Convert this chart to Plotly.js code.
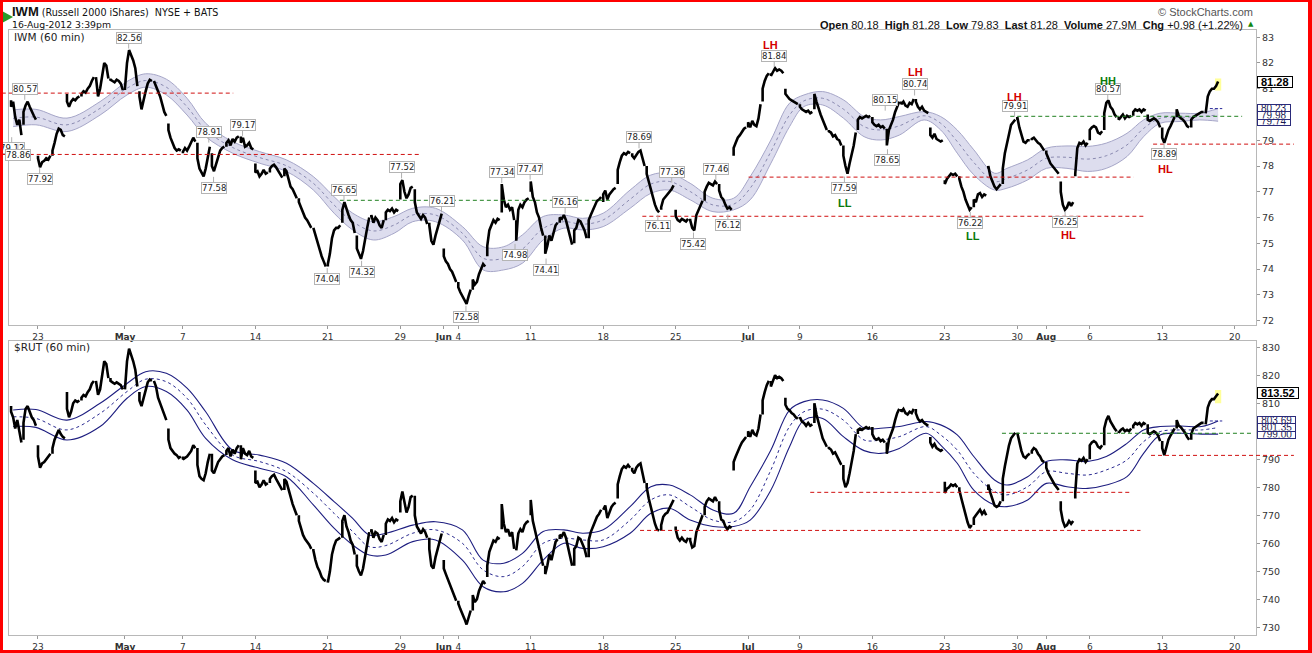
<!DOCTYPE html>
<html><head><meta charset="utf-8">
<script src="https://cdn.plot.ly/plotly-3.0.1.min.js"></script>
<style>
html,body{margin:0;padding:0;background:#fff;}
#wrap{position:relative;width:1312px;height:653px;overflow:hidden;}
#chart{position:absolute;left:0;top:0;width:1312px;height:653px;}
#frame{position:absolute;left:0;top:0;width:1312px;height:653px;box-sizing:border-box;border-style:solid;border-color:#f00;border-width:2px 4px 3px 3px;pointer-events:none;}
</style></head><body>
<div id="wrap"><div id="chart"></div><div id="frame"></div></div>
<script>
// ---------------- DATA ----------------
const FIRST_BAR = -13; // bar index of first hourly bar (Apr 19, 10:30)
const sessionDates = ['2012-04-19','2012-04-20','2012-04-23','2012-04-24','2012-04-25','2012-04-26','2012-04-27','2012-04-30',
 '2012-05-01','2012-05-02','2012-05-03','2012-05-04','2012-05-07','2012-05-08','2012-05-09','2012-05-10','2012-05-11',
 '2012-05-14','2012-05-15','2012-05-16','2012-05-17','2012-05-18','2012-05-21','2012-05-22','2012-05-23','2012-05-24','2012-05-25',
 '2012-05-29','2012-05-30','2012-05-31','2012-06-01','2012-06-04','2012-06-05','2012-06-06','2012-06-07','2012-06-08',
 '2012-06-11','2012-06-12','2012-06-13','2012-06-14','2012-06-15','2012-06-18','2012-06-19','2012-06-20','2012-06-21','2012-06-22',
 '2012-06-25','2012-06-26','2012-06-27','2012-06-28','2012-06-29','2012-07-02','2012-07-03','2012-07-05','2012-07-06',
 '2012-07-09','2012-07-10','2012-07-11','2012-07-12','2012-07-13','2012-07-16','2012-07-17','2012-07-18','2012-07-19','2012-07-20',
 '2012-07-23','2012-07-24','2012-07-25','2012-07-26','2012-07-27','2012-07-30','2012-07-31','2012-08-01','2012-08-02','2012-08-03',
 '2012-08-06','2012-08-07','2012-08-08','2012-08-09','2012-08-10','2012-08-13','2012-08-14','2012-08-15','2012-08-16'];

// IWM session opens
const iwmOpen = [80.55,79.6,78.4,78.4,80.8,80.7,81.45,81.4,80.95,80.9,81.3,79.65,78.5,78.9,78.5,78.75,79.15,78.1,77.75,77.6,76.75,75.6,74.1,75.8,75.3,76.0,75.9,76.7,77.1,75.8,74.8,73.5,73.2,74.5,76.2,75.9,77.0,75.3,75.8,75.0,75.2,76.6,77.3,78.5,78.0,76.3,76.3,75.95,76.65,77.3,78.4,79.5,80.5,81.6,81.0,80.4,80.2,79.4,78.8,79.4,79.9,79.45,80.5,80.6,79.5,77.45,77.6,76.4,77.9,77.3,79.8,79.0,78.6,77.4,77.6,79.0,79.4,79.9,79.95,80.0,79.5,79.9,79.5,80.1];
// IWM hourly closes, one row per session
const iwmHourly = [
 [80.3,80.5,79.9,79.6,79.8,79.2],
 [80.1,80.35,80.5,80.3,80.1,79.95,79.8],
 [78.3,77.95,78.15,78.2,78.3,78.25,78.4],
 [78.6,78.9,79.25,79.45,79.4,79.2,79.15],
 [80.5,80.3,80.5,80.6,80.55,80.65,80.7],
 [80.8,80.9,80.85,81.0,81.1,81.3,81.45],
 [81.45,80.7,81.0,81.6,82.0,81.9,81.4],
 [81.35,81.3,81.25,81.35,81.3,81.2,80.95],
 [81.0,82.0,82.5,82.3,82.1,81.8,81.1],
 [80.7,80.2,80.6,80.9,81.2,81.35,81.3],
 [81.3,81.1,80.95,80.7,80.4,80.1,79.95],
 [79.4,79.1,78.9,78.7,78.6,78.65,78.6],
 [78.55,78.7,78.6,78.75,78.9,79.1,78.95],
 [78.3,77.9,77.75,77.6,77.9,78.3,78.75],
 [78.0,77.8,78.1,78.4,78.6,78.7,78.75],
 [78.9,79.0,78.8,79.05,78.95,79.1,79.15],
 [78.9,79.1,78.75,78.8,78.9,78.7,78.65],
 [77.75,77.8,77.6,77.7,77.85,77.7,77.75],
 [77.9,78.0,78.05,77.95,77.8,77.7,77.55],
 [77.9,77.8,77.5,77.2,77.1,76.9,76.75],
 [76.6,76.4,76.2,76.0,75.9,75.75,75.6],
 [75.6,75.3,75.0,74.7,74.5,74.3,74.1],
 [74.2,74.6,75.2,75.5,75.6,75.6,75.7],
 [76.3,76.6,76.3,76.1,75.9,75.8,75.4],
 [74.8,74.6,74.4,74.7,75.2,75.6,76.0],
 [76.1,75.8,76.0,75.9,75.7,75.6,75.9],
 [76.2,76.3,76.25,76.35,76.2,76.3,76.25],
 [77.3,77.45,77.0,76.75,76.9,77.15,77.2],
 [76.6,76.2,76.05,75.95,76.1,76.0,75.75],
 [75.7,75.1,74.95,75.3,75.6,75.8,76.15],
 [74.5,74.3,74.2,74.0,73.9,73.7,73.5],
 [73.3,73.1,72.95,72.8,72.65,72.95,73.2],
 [73.6,73.4,73.5,73.8,74.0,74.2,74.1],
 [74.9,75.5,75.7,75.9,75.8,75.95,75.9],
 [77.3,76.7,76.4,76.5,76.3,76.4,75.9],
 [75.1,76.3,76.5,76.4,76.6,76.7,76.75],
 [77.4,76.8,76.6,76.2,76.0,75.6,75.3],
 [74.6,74.9,75.3,75.1,75.4,75.7,75.8],
 [76.0,75.95,76.1,75.9,75.6,75.3,74.95],
 [75.5,75.6,75.9,75.85,75.7,75.5,75.2],
 [75.9,76.1,76.3,76.5,76.65,76.7,76.8],
 [76.9,77.05,76.7,76.9,77.0,77.1,77.15],
 [77.85,78.15,78.4,78.5,78.45,78.55,78.5],
 [78.4,78.3,78.45,78.55,78.6,78.3,78.0],
 [77.7,77.4,77.1,76.7,76.5,76.3,76.2],
 [76.4,76.7,76.8,76.9,77.0,77.1,77.25],
 [76.05,75.9,75.85,75.95,75.9,75.85,75.95],
 [75.9,75.6,75.5,76.1,76.3,76.45,76.65],
 [77.0,77.2,77.35,77.3,77.25,77.4,77.3],
 [77.05,76.8,76.7,76.5,76.35,76.4,76.3],
 [78.7,78.9,79.1,79.2,79.35,79.45,79.5],
 [79.7,79.5,79.75,79.6,79.55,79.85,80.4],
 [81.0,81.3,81.5,81.6],
 [81.5,81.65,81.8,81.7,81.75,81.7,81.6],
 [80.8,80.7,80.6,80.55,80.5,80.45,80.4],
 [80.3,80.2,80.15,80.1,80.15,80.05,80.1],
 [80.8,80.5,80.2,80.0,79.8,79.6,79.4],
 [79.35,79.3,79.15,79.2,79.05,79.0,78.8],
 [78.4,78.0,77.7,78.1,78.4,78.8,79.3],
 [79.8,79.9,79.85,79.9,79.95,79.9,79.95],
 [79.7,79.6,79.55,79.6,79.5,79.55,79.45],
 [78.8,79.4,79.6,79.8,80.1,80.3,80.5],
 [80.4,80.5,80.35,80.3,80.45,80.4,80.6],
 [80.5,80.3,80.2,80.3,80.15,80.1,80.05],
 [79.2,79.1,79.25,79.05,79.0,78.95,79.0],
 [77.3,77.5,77.6,77.7,77.65,77.7,77.6],
 [77.5,77.2,77.0,76.7,76.5,76.3,76.4],
 [76.7,76.6,76.9,76.95,76.8,76.9,76.85],
 [78.0,77.6,77.4,77.2,77.1,77.2,77.3],
 [77.9,78.5,78.9,79.3,79.6,79.7,79.8],
 [79.9,79.5,79.2,78.95,78.9,79.0,79.0],
 [79.05,79.1,79.0,78.9,78.85,78.7,78.6],
 [78.5,78.3,78.1,78.0,77.9,77.8,77.7],
 [77.0,76.5,76.3,76.4,76.6,76.45,76.6],
 [77.7,78.7,78.9,78.85,78.95,78.8,78.9],
 [79.4,79.5,79.55,79.5,79.3,79.25,79.35],
 [80.05,80.45,80.55,80.3,80.2,80.0,79.9],
 [79.8,79.9,80.0,79.85,79.95,79.9,79.95],
 [80.1,80.2,80.15,80.2,80.1,80.2,80.15],
 [79.8,79.75,79.8,79.85,79.8,79.7,79.5],
 [79.1,78.9,79.2,79.4,79.55,79.75,79.9],
 [80.2,79.95,79.85,79.8,79.7,79.55,79.5],
 [79.8,79.9,79.95,80.0,80.05,80.1,80.1],
 [80.05,80.7,80.9,81.0,81.0,81.1,81.28]
];

// $RUT session opens
const rutOpen = [809,797,795,792,814,811,818,819,815,814,818,801,791,794,792,791.5,795,786,781.5,779,770,758,746.5,762,756,764,763,771,777,762,754,739.5,736,748,765,758,770,752,761.5,752,755,772,776,787,781.5,764.5,766,762,770,775,786,798,806,818,812,804.5,803,794.5,788,799,801.5,796,808,808,798,782,780,766.5,779,775,799.5,792,789,775,776,790,795,800,801,802.5,796.5,801,797,803];
// $RUT hourly closes, one row per session
const rutHourly = [
 [807,805,801,804,800,796],
 [803,808,809,807,805,804,802],
 [791,787,788.5,789,790,791,792],
 [794,797,799,800.5,799,798,797.5],
 [808,805,807,810,811,810.5,811],
 [812,813,812.5,814,815,817,818],
 [818,813,815,820,825,824,819],
 [818,817.5,817,817.5,817,816.5,815],
 [815,825,829.5,827.5,825,822,816],
 [811,809,812,815,817.5,818.5,818],
 [818,816,812,810,808,806,804],
 [797,794,793,792,791.5,790.5,791],
 [790,790.5,791,792,793,795,794],
 [788,784,783,782.5,785,789,792],
 [786,785,787,789,790,791,791.5],
 [793,794,791,793.5,792,794,795],
 [790,794,792,791.5,793,791,790.5],
 [781.5,782,780,781,782.5,781,781.5],
 [783,784,784.5,783,781.5,780.5,779],
 [783,782,779,776,774,772,770],
 [768,765.5,763,761.5,760.5,759.5,758],
 [757.5,754,751.5,750,748,747,746.5],
 [746,750,756,759,761,761.5,762],
 [768,770,766,764,761,759.5,756],
 [752,750,748.5,751,755,759,764],
 [765,762,764,763.5,761.5,760.5,763],
 [767,768.5,768,769,767.5,768.5,768],
 [775,778.5,774,771,773,776.5,777],
 [770,766,764.5,763.5,765,764,762],
 [758,752,751,755,758,760,763.5],
 [751,749,747,745,743.5,741.5,739.5],
 [738.5,736.5,735,733,731,734,736],
 [741.5,739,740,743,745,746.5,745.5],
 [752,757,759,761,760.5,762,761.5],
 [774,767,764,765,762.5,764,758],
 [757.5,763.5,765,764,766.5,767.5,768],
 [775.5,768,765,761,758.5,755,752],
 [749,752,756,754,757.5,760.5,761.5],
 [763,762.5,764,762,759,755,752],
 [758,759,762,761.5,760,758,755],
 [761,764,766,768,769.5,770.5,772],
 [772,773.5,769,771,773,774,774.5],
 [781,784,786.5,787.5,787,788,787],
 [786,785,787,788,788.5,785,781.5],
 [780,776,773,769,767,765,764.5],
 [766.5,769.5,770.5,771,772.5,773.5,775.5],
 [765,762,761,762,761,760.5,762],
 [761,758.5,759,764,766,768,770],
 [773,775,776,775.5,775,776.5,775],
 [772,768.5,768,766,765,766,765.5],
 [789,791,793,794.5,796,797,798],
 [800,798,800.5,799,798.5,801,806],
 [811,814,816.5,818],
 [816,818,820,819,819.5,819,818],
 [809.5,808,807.5,806.5,806,805,804.5],
 [805,803.5,803,802,803,802,802.5],
 [810,806,803,800,797.5,796,794.5],
 [794,793.5,792,792.5,791,790,788],
 [783,780,781.5,785,789,793,799],
 [800.5,801,800.5,801,801.5,801,801.5],
 [799,797.5,797,797.5,796.5,797,796],
 [792,797,799,801,804,806.5,808],
 [807,808,806.5,806,807,806.5,808],
 [806.5,804.5,803.5,804,803,802.5,802],
 [796,794.5,795.5,794,793.5,793,793.5],
 [778,779.5,780,781,780.5,781,780],
 [779,776,773,770,767.5,765.5,766.5],
 [769,770,771,772,770.5,771.5,770],
 [781,778,775.5,773.5,773,773.5,775],
 [783,787.5,791.5,795,797.5,798.5,799.5],
 [799.5,796,793,791,790.5,791.5,792],
 [793,794,793.5,792,791,789.5,789],
 [787,785,783.5,782,781,780,779],
 [772,768,766,766.5,768,767,768],
 [778,788.5,790,789.5,790.5,789,790],
 [795,796,796.5,796,794.5,794,795],
 [801,804,805.5,803.5,802,801,800],
 [799.5,800.5,801,800,800.5,800,801],
 [802,803,802.5,803,802,803,802.5],
 [799.5,799,799.5,800,799.5,798.5,796.5],
 [794,791.5,794.5,797,798.5,800,801],
 [804,802,801.5,800.5,799.5,798,797],
 [799,801,801.5,802,802.5,803,803],
 [802.5,808.5,810.5,811.5,811.5,812.5,813.52]
];

// IWM moving-average envelope (upper / middle / lower), sampled at bar indices
const iwmBandBars = [-12,-1,14,30,43,52,62,72,81,94,107,120,133,143,152,162,172,181,192,205,215,225,234,244,254,263,273,286,296,305,315,326,336,344,354,363,370,379,389,399,407,416,428,436,444,452,462,468,478,487,497,507,516,526,534,542,552,561,570];
const iwmUpper = [80.18,80.2,79.86,80.5,81.28,81.58,81.37,80.63,79.66,78.95,78.56,78.24,77.59,76.81,76.17,75.84,76.04,76.36,76.36,75.65,74.87,74.87,75.33,76.04,76.1,75.97,76.17,77.07,77.65,77.72,77.33,76.75,76.75,77.59,79.01,80.44,80.76,80.89,80.57,79.92,79.79,79.92,80.11,79.92,79.4,78.63,77.72,77.91,78.24,78.69,78.78,78.76,78.89,79.27,79.79,80.05,80.05,80.05,80.23];
const iwmMid   = [79.85,79.9,79.6,80.24,81.02,81.32,81.06,80.3,79.4,78.72,78.33,78.01,77.33,76.49,75.84,75.48,75.71,76.1,76.1,75.39,74.42,74.42,74.78,75.58,75.84,75.74,75.91,76.71,77.3,77.4,77.01,76.49,76.52,77.14,78.56,79.98,80.53,80.63,80.21,79.53,79.4,79.56,79.95,79.66,78.95,78.14,77.4,77.52,77.85,78.3,78.34,78.27,78.4,78.82,79.46,79.85,79.89,79.92,79.98];
const iwmLower = [79.53,79.6,79.34,79.98,80.76,81.06,80.76,79.98,79.14,78.5,78.11,77.79,77.07,76.17,75.52,75.13,75.39,75.84,75.84,75.13,73.97,73.97,74.23,75.13,75.59,75.52,75.65,76.36,76.94,77.07,76.69,76.23,76.3,76.69,78.11,79.53,80.31,80.37,79.86,79.14,79.01,79.2,79.79,79.4,78.5,77.66,77.07,77.14,77.46,77.91,77.91,77.79,77.91,78.37,79.14,79.66,79.73,79.79,79.74];

// $RUT envelope
const rutBandBars = [-12,-1,14,30,43,52,62,72,81,94,107,120,133,143,152,160,168,181,192,205,215,225,234,244,254,263,273,286,296,305,315,326,336,344,354,363,370,379,389,399,407,416,429,436,444,452,462,468,478,487,497,507,516,526,534,542,552,562,570];
const rutUpper = [807.6,807.8,804,810,817.1,821.3,820.7,815.4,807,793.3,791.5,788.6,781.4,774.9,768.9,763,763.6,766.5,767.7,764.8,754,752.9,756.4,764.2,764.8,763.6,764.8,773.1,780.2,780.8,777.3,771.9,770.7,780.2,793.3,807.6,810.6,811.2,808.2,801.1,801.1,801.7,803.5,802.3,798.7,791,782.6,780.8,783.8,789.2,789.8,789.2,791,795.7,800.5,801.7,801.9,801.7,803.69];
const rutMid   = [805.2,804.6,800.5,806.4,814.2,818.6,817.7,811.8,802.3,791.5,789.2,785.6,777.9,770.7,764.2,758.8,759.2,763.6,764.8,760,750.5,748.1,751.7,760,761.8,761.2,761.2,768.3,775.5,777.3,773.1,768.3,767.7,771.9,786.2,801.7,807,807.9,804,796.9,796.9,798.1,801.7,798.7,793.3,785,778.5,777.3,780.2,785.6,785,784.4,786.2,789.8,796.3,799.9,800.5,800.5,801.35];
const rutLower = [801.7,801.4,796.9,801.7,811.8,816,814.2,807.6,797.5,789.8,786.8,783.8,773.7,765.4,759.4,755.8,755.8,760.6,761.2,754,744.5,742.7,745.7,754,760,758.2,758.8,763.6,770.7,772.5,768.3,766,766,768.3,779,794.5,804,804.6,798.1,793.1,792.1,793.9,799.3,795.1,788.6,779,773.7,773.1,775.5,781.4,780.2,779.6,780.8,783.8,792.1,798.7,799.3,799,799.00];

// x-axis ticks (session dates) and their labels
const tickDates  = ['2012-04-23','2012-05-01','2012-05-07','2012-05-14','2012-05-21','2012-05-29','2012-06-01','2012-06-04','2012-06-11','2012-06-18','2012-06-25','2012-07-02','2012-07-09','2012-07-16','2012-07-23','2012-07-30','2012-08-01','2012-08-06','2012-08-13','2012-08-20'];
const tickLabels = ['23','<b>May</b>','7','14','21','29','<b>Jun</b>','4','11','18','25','<b>Jul</b>','9','16','23','30','<b>Aug</b>','6','13','20'];

// pivot price labels on IWM: [label, bar index, H (above) / L (below)]
const iwmPivots = [
 ['80.57',-6.4,'H'],['79.12',-12.7,'L'],['78.86',-9.7,'L'],['77.92',0.8,'L'],['82.56',43.8,'H'],
 ['78.91',82.5,'H'],['79.17',98.8,'H'],['77.58',84.8,'L'],['77.52',175.6,'H'],['76.65',147.8,'H'],
 ['74.04',139.7,'L'],['74.32',156.3,'L'],['76.21',194.9,'H'],['72.58',206.7,'L'],['77.34',224,'H'],
 ['77.47',237.7,'H'],['74.98',230.4,'L'],['74.41',245.4,'L'],['76.16',254.6,'H'],['78.69',290.3,'H'],
 ['77.36',306.1,'H'],['76.11',299.4,'L'],['75.42',316.6,'L'],['77.46',327.4,'H'],['76.12',333.2,'L'],
 ['81.84',355.6,'H'],['77.59',389.5,'L'],['80.74',423.4,'H'],['80.15',409.2,'H'],['78.65',410.3,'L'],
 ['79.91',471.7,'H'],['76.22',450.3,'L'],['76.25',496.1,'L'],['80.57',516.7,'H'],['78.89',543.9,'L']
];
// swing tags: [tag, bar index, price level of tag]
const swingTags = [
 ['LH',354,82.71],['LL',390,76.58],['LH',424,81.65],['LH',471.7,80.68],['LL',451.6,75.29],
 ['HL',497.7,75.31],['HH',516.7,81.30],['HL',544.6,77.88]
];
const tagColor = {LH:'#d40000', HL:'#d40000', LL:'#0a7a0a', HH:'#0a7a0a'};
// horizontal levels: [from bar, to bar, price, kind]
const iwmLevels = [[-17.5,94.3,80.83,'r'],[-17.5,184.5,78.45,'r'],[145.8,277.1,76.67,'g'],[343.2,529.2,77.57,'r'],[291.9,534.1,76.05,'r'],[469.6,581.6,79.93,'g'],[538.6,606.6,78.85,'r']];
const rutLevels = [[373,528.5,778.2,'r'],[290.8,532.5,764.6,'r'],[465.6,587.1,799.3,'g'],[537.6,606.6,791.4,'r']];

const iwmLast = 81.28, rutLast = 813.52;
const iwmBandLast = [80.23, 79.74, 79.98];
const rutBandLast = [803.69, 799.00, 801.35];

// ---------------- BUILD ----------------
const XR = [-14, 588.3];
const sessionStart = {};
let lastBar = FIRST_BAR;
sessionDates.forEach((d,k)=>{ sessionStart[d]=lastBar; lastBar += iwmHourly[k].length; });
lastBar -= 1;
function barOfDate(d){
  if (d in sessionStart) return sessionStart[d];
  const last = sessionDates[sessionDates.length-1];
  let t = new Date(last+'T12:00:00Z'), target = new Date(d+'T12:00:00Z'), n = 0;
  while (t < target){ t.setUTCDate(t.getUTCDate()+1); const w=t.getUTCDay(); if(w!==0&&w!==6) n++; }
  return sessionStart[last] + 7*n;
}
const tickVals = tickDates.map(barOfDate);

function hourly(opens, rows){
  const x=[], y=[]; let i = FIRST_BAR;
  rows.forEach((r,k)=>{ x.push(i); y.push(opens[k]); r.forEach(v=>{ x.push(i); y.push(v); i++; }); x.push(null); y.push(null); });
  return {x,y};
}
const iwm = hourly(iwmOpen, iwmHourly), rut = hourly(rutOpen, rutHourly);

const traces = [
 {x:iwmBandBars,y:iwmUpper,xaxis:'x',yaxis:'y',mode:'lines',line:{color:'#a6a6c8',width:1,shape:'spline',smoothing:1}},
 {x:iwmBandBars,y:iwmLower,xaxis:'x',yaxis:'y',mode:'lines',fill:'tonexty',fillcolor:'rgba(208,208,232,0.72)',line:{color:'#a6a6c8',width:1,shape:'spline',smoothing:1}},
 {x:iwmBandBars,y:iwmMid,xaxis:'x',yaxis:'y',mode:'lines',line:{color:'#8a8ab0',width:1,dash:'dot',shape:'spline',smoothing:1}},
 {x:iwm.x,y:iwm.y,xaxis:'x',yaxis:'y',mode:'lines',line:{color:'#000',width:2.6},connectgaps:false},
 {x:rutBandBars,y:rutUpper,xaxis:'x2',yaxis:'y2',mode:'lines',line:{color:'#1e1e80',width:1.1,shape:'spline',smoothing:1}},
 {x:rutBandBars,y:rutLower,xaxis:'x2',yaxis:'y2',mode:'lines',line:{color:'#1e1e80',width:1.1,shape:'spline',smoothing:1}},
 {x:rutBandBars,y:rutMid,xaxis:'x2',yaxis:'y2',mode:'lines',line:{color:'#2a2a90',width:1,dash:'dot',shape:'spline',smoothing:1}},
 {x:rut.x,y:rut.y,xaxis:'x2',yaxis:'y2',mode:'lines',line:{color:'#000',width:2.6},connectgaps:false}
];

const PL=9, PR=1256, PT=30, PB=635;
const px = x => (x-PL)/(PR-PL);
const py = y => (PB-y)/(PB-PT);
const bx = i => (i-XR[0])/(XR[1]-XR[0]);

const axisX = {range:XR, tickvals:tickVals, ticktext:tickLabels, ticks:'outside', ticklen:3, tickcolor:'#999',
  showline:true, mirror:true, linecolor:'#b8b8b8', linewidth:1, showgrid:false, zeroline:false,
  tickfont:{family:'DejaVu Sans', size:9, color:'#333'}, fixedrange:true};
const axisY = {side:'right', ticks:'outside', ticklen:3, tickcolor:'#999', showline:true, mirror:true,
  linecolor:'#b8b8b8', linewidth:1, showgrid:false, zeroline:false,
  tickfont:{family:'DejaVu Sans', size:9.5, color:'#333'}};

const ann = [];
iwmPivots.forEach(([t,bar,side])=>{
  ann.push({xref:'x',yref:'y',x:bar,y:parseFloat(t),text:t,showarrow:true,arrowhead:0,arrowwidth:1,arrowcolor:'#b0b0b0',
    ax:0, ay: side==='H'?-11:11, standoff:0, bgcolor:'#fff', bordercolor:'#b4b4b4', borderwidth:1, borderpad:0,
    font:{family:'DejaVu Sans', size:8.5, color:'#222'}});
});
swingTags.forEach(([t,bar,lvl])=>{
  ann.push({xref:'x',yref:'y',x:bar,y:lvl,text:'<b>'+t+'</b>',showarrow:false,
    font:{family:'Liberation Sans', size:11, color: tagColor[t]}});
});
function valueBox(v, yref, main){
  const s = v.toFixed(2);
  return {xref:'paper', x:1, xanchor:'left', xshift:1, yref:yref, y:v, showarrow:false,
    text: main ? '<b>'+s+'</b>' : s, bgcolor:'#fff',
    width: (main ? 6.3 : 5.9)*s.length + 2, height: main ? 9.5 : 6.5, align:'center',
    bordercolor: main ? '#000' : '#2a2a7a', borderwidth:1, borderpad:0,
    font:{family:'Liberation Sans', size: main?11:10, color: main?'#000':'#1a1a50'}};
}
iwmBandLast.forEach(v=>ann.push(valueBox(v,'y',false)));
ann.push(valueBox(iwmLast,'y',true));
rutBandLast.forEach(v=>ann.push(valueBox(v,'y2',false)));
ann.push(valueBox(rutLast,'y2',true));

// header texts
ann.push({xref:'paper',yref:'paper',x:px(10),y:py(11.5),xanchor:'left',yanchor:'middle',showarrow:false,
  text:'<span style="font-family:Liberation Sans;font-size:13px;font-weight:bold">IWM</span> (Russell 2000 iShares)&nbsp; NYSE + BATS',
  font:{family:'DejaVu Sans',size:9.6,color:'#111'}});
ann.push({xref:'paper',yref:'paper',x:px(10),y:py(24.5),xanchor:'left',yanchor:'middle',showarrow:false,
  text:'16-Aug-2012 3:39pm',font:{family:'DejaVu Sans',size:9.3,color:'#111'}});
ann.push({xref:'paper',yref:'paper',x:px(1255),y:py(11.5),xanchor:'right',yanchor:'middle',showarrow:false,
  text:'© StockCharts.com',font:{family:'Liberation Sans',size:11,color:'#555'}});
ann.push({xref:'paper',yref:'paper',x:px(1245),y:py(24.5),xanchor:'right',yanchor:'middle',showarrow:false,
  text:'<b>Open</b> 80.18&nbsp; <b>High</b> 81.28&nbsp; <b>Low</b> 79.83&nbsp; <b>Last</b> 81.28&nbsp; <b>Volume</b> 27.9M&nbsp; <b>Chg</b> +0.98 (+1.22%)',
  font:{family:'Liberation Sans',size:11,color:'#111'}});
ann.push({xref:'paper',yref:'paper',x:px(1251),y:py(24),xanchor:'center',yanchor:'middle',showarrow:false,
  text:'▲',font:{family:'DejaVu Sans',size:7,color:'#118811'}});
ann.push({xref:'paper',yref:'paper',x:px(12),y:py(37.5),xanchor:'left',yanchor:'middle',showarrow:false,
  text:'IWM (60 min)',font:{family:'DejaVu Sans',size:10.5,color:'#222'}});
ann.push({xref:'paper',yref:'paper',x:px(12),y:py(347.5),xanchor:'left',yanchor:'middle',showarrow:false,
  text:'$RUT (60 min)',font:{family:'DejaVu Sans',size:10.5,color:'#222'}});

const shapes = [];
function lvl(arr, yref){
  arr.forEach(([a,b,p,k])=>shapes.push({type:'line',xref:'paper',yref:yref,x0:bx(a),x1:bx(b),y0:p,y1:p,
    line:{color: k==='r' ? '#d01010' : '#208020', width:1, dash:'4px,3px'}}));
}
lvl(iwmLevels,'y'); lvl(rutLevels,'y2');
// short navy stub extending the upper envelope past the last bar
shapes.push({type:'line',xref:'x',yref:'y',x0:lastBar-4,x1:lastBar+2,y0:iwmBandLast[0],y1:iwmBandLast[0],line:{color:'#2a2a9a',width:1,dash:'3px,2px'}});
shapes.push({type:'line',xref:'x2',yref:'y2',x0:lastBar-4,x1:lastBar+2,y0:rutBandLast[0],y1:rutBandLast[0],line:{color:'#2a2a9a',width:1,dash:'3px,2px'}});
// yellow highlight behind the last bar
shapes.push({type:'rect',xref:'x',yref:'y',layer:'below',x0:lastBar-1.5,x1:lastBar+1.5,y0:iwmLast-0.35,y1:iwmLast+0.12,fillcolor:'#ffff9a',line:{width:0}});
shapes.push({type:'rect',xref:'x2',yref:'y2',layer:'below',x0:lastBar-1.5,x1:lastBar+1.5,y0:rutLast-3.5,y1:rutLast+1.2,fillcolor:'#ffff9a',line:{width:0}});
shapes.push({type:'path',xref:'paper',yref:'paper',
  path:`M ${px(2)} ${py(11)} L ${px(13)} ${py(17)} L ${px(2)} ${py(23)} Z`,
  fillcolor:'#2a9a2a',line:{width:0}});

const topDom = [py(325), 1], botDom = [0, py(340.7)];
const layout = {
  width:1312, height:653, margin:{l:PL, r:1312-PR, t:PT, b:653-PB, pad:0},
  paper_bgcolor:'#fff', plot_bgcolor:'#fff', showlegend:false, hovermode:false,
  xaxis:Object.assign({}, axisX, {anchor:'y', domain:[0,1]}),
  xaxis2:Object.assign({}, axisX, {anchor:'y2', domain:[0,1]}),
  yaxis:Object.assign({}, axisY, {anchor:'x', domain:topDom, range:[71.83,83.28], tick0:72, dtick:1}),
  yaxis2:Object.assign({}, axisY, {anchor:'x2', domain:botDom, range:[727.25,832.36], tick0:730, dtick:10}),
  annotations:ann, shapes:shapes
};
Plotly.newPlot('chart', traces, layout, {staticPlot:true, displayModeBar:false});
</script></body></html>
